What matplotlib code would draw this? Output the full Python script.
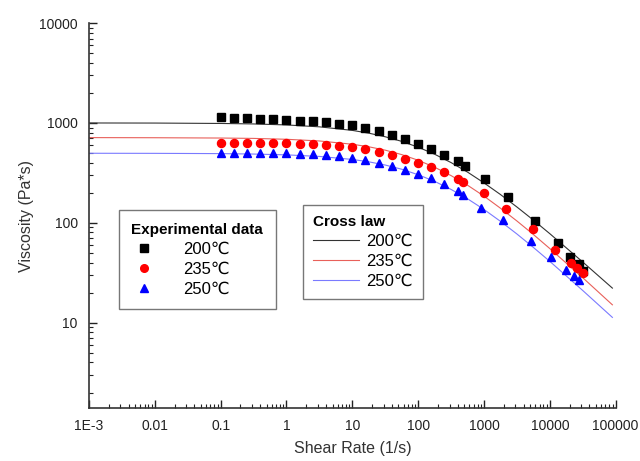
import matplotlib
matplotlib.use('Agg')
import matplotlib.pyplot as plt
import numpy as np
from matplotlib.lines import Line2D
from matplotlib.ticker import LogLocator, NullFormatter

plt.rcParams['font.family'] = ['Liberation Sans', 'DejaVu Sans']

# ── Datos experimentales ──
# reómetro rotacional: 5 puntos por década desde 0.1 1/s
rheo_rate = [0.1, 0.158, 0.251, 0.398, 0.631, 1.0, 1.58, 2.51, 3.98, 6.31,
             10.0, 15.8, 25.1, 39.8, 63.1, 100, 158, 251, 398]
rheo_200 = [1140, 1122, 1114, 1096, 1084, 1072, 1054, 1035, 1012, 984,
            955, 891, 822, 759, 692, 617, 546, 482, 420]
rheo_235 = [635, 635, 635, 635, 631, 627, 621, 613, 603, 589,
            569, 543, 506, 479, 437, 401, 361, 319, 275]
rheo_250 = [505, 505, 505, 505, 501, 498, 493, 487, 479, 463,
            447, 422, 395, 372, 339, 309, 280, 243, 208]

# reómetro capilar
cap_rate_200 = [508, 1047, 2306, 6000, 13200, 19900, 27300, 32400]
cap_200 = [374, 273, 181, 105, 63.4, 45.2, 38.9, 33.3]
cap_rate_235 = [479, 986, 2128, 5520, 11800, 20600, 26300, 31400]
cap_235 = [255, 198, 138, 86.5, 53.7, 39.8, 35.5, 31.6]
cap_rate_250 = [479, 910, 1936, 5090, 10500, 17300, 22900, 28200]
cap_250 = [191, 142, 107.4, 65.8, 45.4, 33.9, 29.5, 26.9]

# ── Curvas de ajuste (ley de Cross) ──
fit_rate = [1e-3, 1e-2, 1e-1, 0.316, 1, 3.16, 10, 17.8, 31.6, 56.2, 100,
            178, 316, 562, 1000, 1778, 3162, 5623, 10000, 31623, 89125]
fit_200 = [999, 997, 988, 977, 955, 914, 842, 790, 727, 654, 572,
           486, 401, 322, 251, 192, 144, 106.5, 77.8, 40.5, 22.2]
fit_235 = [713, 711, 706, 700, 686, 660, 612, 577, 534, 482, 423,
           360, 297, 238, 185, 140, 104.3, 76.4, 55.2, 28.2, 15.1]
fit_250 = [497, 496, 493, 488, 479, 462, 431, 408, 379, 344, 303,
           260, 216, 174, 136, 103.5, 77.3, 56.7, 41.1, 21.0, 11.3]

temps = ['200\u2103', '235\u2103', '250\u2103']
line_colors = ['#333333', '#e8605a', '#7a7aff']
mark_colors = ['black', 'red', 'blue']
markers = ['s', 'o', '^']

# ── Figura ──
fig = plt.figure(figsize=(6.4, 4.61), dpi=100)
ax = fig.add_axes([0.139, 0.115, 0.823, 0.835])

for fit, c in zip([fit_200, fit_235, fit_250], line_colors):
    ax.plot(fit_rate, fit, color=c, lw=0.8, zorder=2)

series = [(rheo_200, cap_rate_200, cap_200),
          (rheo_235, cap_rate_235, cap_235),
          (rheo_250, cap_rate_250, cap_250)]
for (rh, cr, cv), mk, c in zip(series, markers, mark_colors):
    ax.plot(rheo_rate + cr, rh + cv, ls='none', marker=mk, color=c,
            ms=5.8, mec=c, zorder=3)

ax.set_xscale('log')
ax.set_yscale('log')
ax.set_xlim(1e-3, 1e5)
ax.set_ylim(1.4, 1e4)

ax.set_xticks([1e-3, 1e-2, 1e-1, 1, 10, 100, 1000, 1e4, 1e5])
ax.set_xticklabels(['1E-3', '0.01', '0.1', '1', '10', '100', '1000',
                    '10000', '100000'])
ax.set_yticks([10, 100, 1000, 10000])
ax.set_yticklabels(['10', '100', '1000', '10000'])
ax.xaxis.set_minor_locator(LogLocator(base=10, subs=np.arange(2, 10)))
ax.yaxis.set_minor_locator(LogLocator(base=10, subs=np.arange(2, 10)))
ax.xaxis.set_minor_formatter(NullFormatter())
ax.yaxis.set_minor_formatter(NullFormatter())

ax.tick_params(which='both', direction='in', labelsize=10, colors='#222222')
ax.tick_params(which='major', length=6, width=1)
ax.tick_params(which='minor', length=3, width=0.8)
ax.tick_params(axis='x', pad=8)
ax.tick_params(axis='y', pad=8)
for s in ['top', 'right']:
    ax.spines[s].set_visible(False)
for s in ['left', 'bottom']:
    ax.spines[s].set_linewidth(1.2)
    ax.spines[s].set_color('#333333')

ax.set_xlabel('Shear Rate (1/s)', fontsize=11.5, color='#333333', labelpad=6)
ax.set_ylabel('Viscosity (Pa*s)', fontsize=11.5, color='#333333', labelpad=4)

# ── Leyendas ──
exp_handles = [Line2D([], [], ls='none', marker=m, color=c, ms=5.5)
               for m, c in zip(markers, mark_colors)]
leg1 = ax.legend(exp_handles, temps, title='Experimental data',
                 loc='upper left', bbox_to_anchor=(0.057, 0.514),
                 borderaxespad=0,
                 fontsize=12, title_fontproperties={'weight': 'bold', 'size': 11},
                 handlelength=1.5, handletextpad=1.6, labelspacing=0.3,
                 borderpad=0.75, fancybox=False, framealpha=1,
                 edgecolor='#777777')
leg1._legend_box.align = 'left'
ax.add_artist(leg1)

fit_handles = [Line2D([], [], color=c, lw=0.8) for c in line_colors]
leg2 = ax.legend(fit_handles, temps, title='Cross law',
                 loc='upper left', bbox_to_anchor=(0.406, 0.527),
                 borderaxespad=0,
                 fontsize=12, title_fontproperties={'weight': 'bold', 'size': 11},
                 handlelength=2.8, handletextpad=0.4, labelspacing=0.3,
                 borderpad=0.6, fancybox=False, framealpha=1,
                 edgecolor='#777777')
leg2._legend_box.align = 'left'

fig.savefig('out.png', dpi=100)
